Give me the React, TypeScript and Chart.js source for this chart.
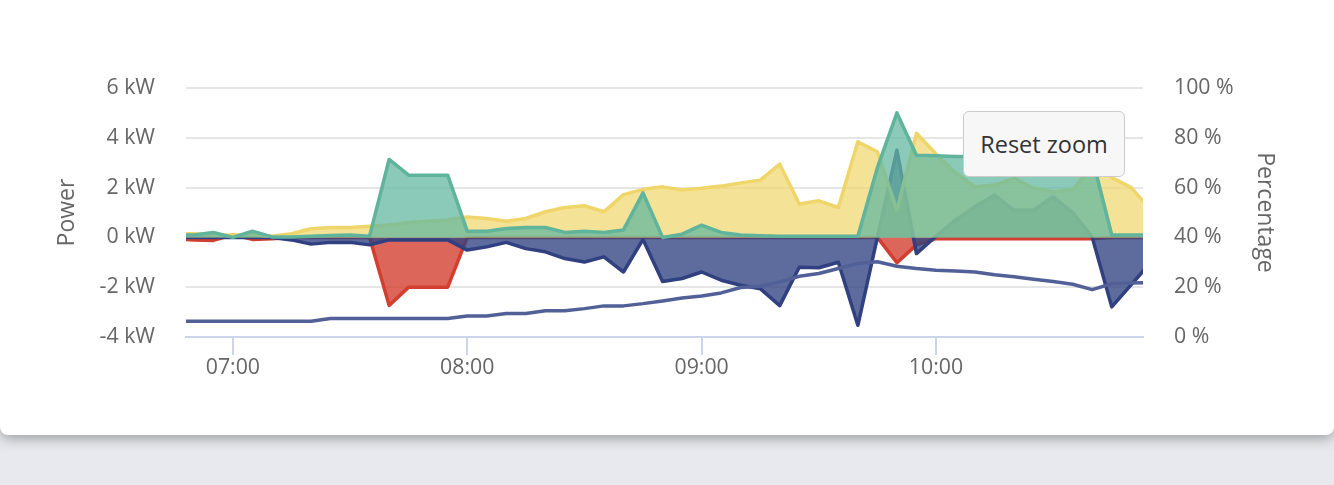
import React, { useEffect, useRef } from "react";
import { Chart, registerables } from "chart.js";

Chart.register(...registerables);

const times = [
  "06:45", "06:50", "06:55", "07:00", "07:05", "07:10", "07:15", "07:20", "07:25", "07:30", "07:35", "07:40", "07:45", "07:50", "07:55",
  "08:00", "08:05", "08:10", "08:15", "08:20", "08:25", "08:30", "08:35", "08:40", "08:45", "08:50", "08:55",
  "09:00", "09:05", "09:10", "09:15", "09:20", "09:25", "09:30", "09:35", "09:40", "09:45", "09:50", "09:55",
  "10:00", "10:05", "10:10", "10:15", "10:20", "10:25", "10:30", "10:35", "10:40", "10:45", "10:50", "10:55",
];

const solar = [
  0.15, 0.15, 0.1, 0.1, 0.12, 0.05, 0.15, 0.35, 0.4, 0.4, 0.45, 0.5, 0.6, 0.65, 0.7,
  0.82, 0.76, 0.65, 0.76, 1.03, 1.2, 1.27, 1.03, 1.72, 1.93, 2.03, 1.9,
  1.97, 2.06, 2.19, 2.3, 2.94, 1.34, 1.47, 1.2, 3.84, 3.44, 1.1, 4.18,
  3.35, 2.6, 2.03, 2.1, 2.37, 1.97, 1.83, 1.9, 2.9, 2.4, 2.0, 1.1,
];

const consumption = [
  0.1, 0.1, 0.2, 0.0, 0.25, 0.02, 0.02, 0.05, 0.08, 0.1, 0.05, 3.13, 2.5, 2.5, 2.5,
  0.25, 0.25, 0.36, 0.4, 0.4, 0.2, 0.25, 0.2, 0.3, 1.79, 0.0, 0.13,
  0.49, 0.2, 0.1, 0.07, 0.05, 0.05, 0.05, 0.05, 0.05, 2.8, 5.0, 3.3,
  3.28, 3.25, 3.25, 3.2, 3.2, 3.2, 3.2, 3.2, 3.2, 0.1, 0.1, 0.1,
];

const grid = [
  -0.05, -0.1, -0.12, 0.1, -0.08, -0.05, 0, 0, 0, 0, 0, -2.73, -2.0, -2.0, -2.0,
  0, 0, 0, 0, 0, 0, 0, 0, 0, 0, 0, 0,
  0, 0, 0, 0, 0, 0, 0, 0, 0, 0, -1.02, -0.3,
  -0.05, -0.05, -0.05, -0.05, -0.05, -0.05, -0.05, -0.05, -0.05, 0, 0, 0,
];

const battery = [
  0, 0, 0, 0, 0, 0, -0.1, -0.27, -0.2, -0.2, -0.3, -0.1, -0.1, -0.1, -0.1,
  -0.51, -0.38, -0.2, -0.45, -0.58, -0.85, -0.99, -0.78, -1.39, -0.08, -1.77, -1.65,
  -1.39, -1.72, -1.92, -2.06, -2.74, -1.2, -1.22, -1.0, -3.53, 0.0, 3.5, -0.65,
  0.05, 0.69, 1.23, 1.7, 1.09, 1.09, 1.63, 1.0, 0.0, -2.79, -1.9, -1.0,
];

const soc = [
  6.3, 6.3, 6.3, 6.3, 6.3, 6.3, 6.3, 6.3, 7.4, 7.4, 7.4, 7.4, 7.4, 7.4, 7.4,
  8.4, 8.4, 9.4, 9.4, 10.5, 10.5, 11.4, 12.5, 12.5, 13.4, 14.5, 15.7,
  16.5, 17.7, 19.9, 20.4, 22.1, 24.4, 25.5, 27.5, 29.5, 30.2, 28.4, 27.5,
  26.8, 26.5, 26.1, 25.0, 24.2, 23.2, 22.3, 21.2, 19.0, 21.4, 21.7, 21.8,
];

const xRange = ["06:48", "10:53"];
const hourTicks = ["07:00", "08:00", "09:00", "10:00"];
const powerTicks = [-4, -2, 0, 2, 4, 6];
const percentTicks = [0, 20, 40, 60, 80, 100];

const FONT = "'Open Sans', 'Noto Sans', sans-serif";

const toMin = (t: string) => {
  const [h, m] = t.split(":").map(Number);
  return h * 60 + m;
};
const fmt = (v: number) =>
  `${String(Math.floor(v / 60)).padStart(2, "0")}:${String(Math.round(v % 60)).padStart(2, "0")}`;
const points = (vals: number[]) => vals.map((y, i) => ({ x: toMin(times[i]), y }));

export default function App() {
  const ref = useRef<HTMLCanvasElement | null>(null);

  useEffect(() => {
    if (!ref.current) return;
    Chart.defaults.font.family = FONT;
    const tickFont = { family: FONT, size: 21.3 };
    const titleFont = { family: FONT, size: 23 };
    const chart = new Chart(ref.current, {
      type: "line",
      data: {
        datasets: [
          {
            label: "Battery level",
            data: points(soc),
            yAxisID: "y1",
            borderColor: "rgb(82,96,152)",
            borderWidth: 3.5,
            fill: false,
            pointRadius: 0,
            order: 0,
          },
          {
            label: "Consumption",
            data: points(consumption),
            yAxisID: "y",
            borderColor: "rgb(96,180,156)",
            backgroundColor: "rgba(100,184,160,0.75)",
            borderWidth: 3.5,
            fill: "origin",
            pointRadius: 0,
            order: 1,
          },
          {
            label: "Solar",
            data: points(solar),
            yAxisID: "y",
            borderColor: "rgb(240,214,106)",
            backgroundColor: "rgba(240,214,106,0.7)",
            borderWidth: 3.5,
            fill: "origin",
            pointRadius: 0,
            order: 2,
          },
          {
            label: "Battery",
            data: points(battery),
            yAxisID: "y",
            borderColor: "rgb(48,64,128)",
            backgroundColor: "rgba(48,66,130,0.78)",
            borderWidth: 3.5,
            fill: "origin",
            pointRadius: 0,
            order: 3,
          },
          {
            label: "Grid",
            data: points(grid),
            yAxisID: "y",
            borderColor: "rgb(210,62,48)",
            backgroundColor: "rgba(212,64,50,0.8)",
            borderWidth: 3.5,
            fill: "origin",
            pointRadius: 0,
            order: 4,
          },
        ],
      },
      options: {
        animation: false,
        responsive: false,
        layout: { padding: { top: 88, left: 0, right: 0, bottom: 0 } },
        plugins: { legend: { display: false }, tooltip: { enabled: false } },
        elements: { line: { tension: 0, borderJoinStyle: "round" }, point: { radius: 0 } },
        scales: {
          x: {
            type: "linear",
            min: toMin(xRange[0]),
            max: toMin(xRange[1]),
            afterBuildTicks: (s: any) => {
              s.ticks = hourTicks.map((t) => ({ value: toMin(t) }));
            },
            afterFit: (s: any) => {
              s.height = 98;
            },
            grid: { drawOnChartArea: false, drawTicks: true, tickLength: 18, color: "#ccd6eb", lineWidth: 2 },
            border: { display: true, color: "#ccd6eb", width: 2 },
            ticks: {
              padding: 0,
              color: "#666666",
              font: tickFont,
              maxRotation: 0,
              autoSkip: false,
              callback: (v: any) => fmt(Number(v)),
            },
          },
          y: {
            position: "left",
            min: powerTicks[0],
            max: powerTicks[powerTicks.length - 1],
            afterBuildTicks: (s: any) => {
              s.ticks = powerTicks.map((v) => ({ value: v }));
            },
            afterFit: (s: any) => {
              s.width = 186;
            },
            grid: { color: "#e6e6e6", lineWidth: 2, drawTicks: false },
            border: { display: false },
            ticks: { padding: 31, color: "#666666", font: tickFont, callback: (v: any) => `${v} kW` },
            title: { display: true, text: "Power", color: "#666666", font: titleFont, padding: { top: 54, bottom: 0 } },
          },
          y1: {
            position: "right",
            min: percentTicks[0],
            max: percentTicks[percentTicks.length - 1],
            afterBuildTicks: (s: any) => {
              s.ticks = percentTicks.map((v) => ({ value: v }));
            },
            afterFit: (s: any) => {
              s.width = 191;
            },
            grid: { drawOnChartArea: false, drawTicks: false },
            border: { display: false },
            ticks: { padding: 31, color: "#666666", font: tickFont, callback: (v: any) => `${v} %` },
            title: { display: true, text: "Percentage", color: "#666666", font: titleFont, padding: { top: 56, bottom: 0 } },
          },
        },
      } as any,
    });
    return () => chart.destroy();
  }, []);

  return (
    <div style={{ position: "fixed", left: 0, top: 0, width: 1334, height: 485, background: "#e8e9ee", overflow: "hidden" }}>
      <div
        style={{
          position: "absolute",
          left: 0,
          top: -20,
          width: 1334,
          height: 455,
          background: "#ffffff",
          borderRadius: 8,
          boxShadow: "0 3px 14px rgba(0,0,0,0.35)",
        }}
      />
      <canvas ref={ref} width={1334} height={435} style={{ position: "absolute", left: 0, top: 0, width: 1334, height: 435 }} />
      <div
        style={{
          position: "absolute",
          left: 963,
          top: 111,
          width: 162,
          height: 66,
          boxSizing: "border-box",
          background: "#f7f7f7",
          border: "1px solid #cccccc",
          borderRadius: 6,
          color: "#333333",
          fontFamily: FONT,
          fontSize: 23.5,
          display: "flex",
          alignItems: "center",
          justifyContent: "center",
        }}
      >
        Reset zoom
      </div>
    </div>
  );
}
